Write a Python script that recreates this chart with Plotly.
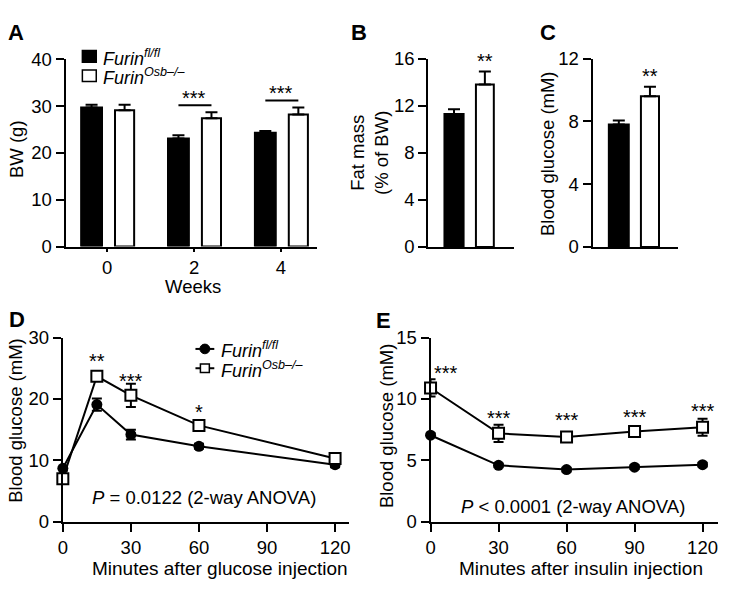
import plotly.graph_objects as go

W, H = 744, 609
FONT = "Liberation Sans, Arial, sans-serif"
FS = 18.5

# ---------------- data ----------------
weeks = ["0", "2", "4"]
bw_fl = [29.7, 23.1, 24.3]
bw_fl_err = [0.6, 0.7, 0.4]
bw_osb = [29.1, 27.4, 28.2]
bw_osb_err = [1.2, 1.3, 1.5]
bw_sig = ["", "***", "***"]

fat_fl = [11.3]
fat_fl_err = [0.4]
fat_osb = [13.8]
fat_osb_err = [1.1]

glc_fl = [7.8]
glc_fl_err = [0.26]
glc_osb = [9.6]
glc_osb_err = [0.6]

gtt_t = [0, 15, 30, 60, 120]
gtt_fl = [8.7, 19.1, 14.2, 12.3, 9.3]
gtt_fl_err = [0.4, 1.0, 0.8, 0.4, 0.4]
gtt_osb = [7.0, 23.7, 20.6, 15.7, 10.3]
gtt_osb_err = [0.5, 0.5, 1.9, 0.5, 0.4]
gtt_sig = ["", "**", "***", "*", ""]
gtt_sig_y = [None, 27.0, 23.7, 18.7, None]

itt_t = [0, 30, 60, 90, 120]
itt_fl = [7.05, 4.6, 4.25, 4.45, 4.65]
itt_fl_err = [0.15, 0.15, 0.15, 0.15, 0.15]
itt_osb = [10.9, 7.2, 6.9, 7.35, 7.7]
itt_osb_err = [0.7, 0.7, 0.4, 0.45, 0.7]
itt_sig = ["***", "***", "***", "***", "***"]
itt_sig_y = [12.5, 8.84, 8.71, 8.94, 9.42]

FL = "<i>Furin<sup>fl/fl</sup></i>"
OSB = "<i>Furin<sup>Osb–/–</sup></i>"


def px(x):
    return x / W


def py(y):
    return 1 - y / H


fig = go.Figure()

err_up = lambda arr: dict(type="data", array=arr, arrayminus=[0] * len(arr), symmetric=False,
                          color="black", thickness=2, width=6)
err_sym = lambda arr: dict(type="data", array=arr, color="black", thickness=2, width=5)

# ---------- Panel A ----------
xa = list(range(len(weeks)))
fig.add_trace(go.Bar(x=xa, y=bw_fl, width=0.24, offset=-0.30, showlegend=False,
                     marker=dict(color="black", line=dict(color="black", width=2)),
                     error_y=err_up(bw_fl_err), xaxis="x", yaxis="y"))
fig.add_trace(go.Bar(x=xa, y=bw_osb, width=0.22, offset=0.09, showlegend=False,
                     marker=dict(color="white", line=dict(color="black", width=2)),
                     error_y=err_up(bw_osb_err), xaxis="x", yaxis="y"))
# ---------- Panel B ----------
fig.add_trace(go.Bar(x=[0], y=fat_fl, width=0.62, showlegend=False,
                     marker=dict(color="black", line=dict(color="black", width=2)),
                     error_y=err_up(fat_fl_err), xaxis="x2", yaxis="y2"))
fig.add_trace(go.Bar(x=[1], y=fat_osb, width=0.58, showlegend=False,
                     marker=dict(color="white", line=dict(color="black", width=2)),
                     error_y=err_up(fat_osb_err), xaxis="x2", yaxis="y2"))
# ---------- Panel C ----------
fig.add_trace(go.Bar(x=[0], y=glc_fl, width=0.64, showlegend=False,
                     marker=dict(color="black", line=dict(color="black", width=2)),
                     error_y=err_up(glc_fl_err), xaxis="x3", yaxis="y3"))
fig.add_trace(go.Bar(x=[1], y=glc_osb, width=0.58, showlegend=False,
                     marker=dict(color="white", line=dict(color="black", width=2)),
                     error_y=err_up(glc_osb_err), xaxis="x3", yaxis="y3"))
# ---------- Panels D, E ----------
for xs, ys, es, sym, col, xr, yr in [
    (gtt_t, gtt_fl, gtt_fl_err, "circle", "black", "x4", "y4"),
    (gtt_t, gtt_osb, gtt_osb_err, "square", "white", "x4", "y4"),
    (itt_t, itt_fl, itt_fl_err, "circle", "black", "x5", "y5"),
    (itt_t, itt_osb, itt_osb_err, "square", "white", "x5", "y5"),
]:
    fig.add_trace(go.Scatter(x=xs, y=ys, mode="lines+markers", showlegend=False,
                             line=dict(color="black", width=2),
                             marker=dict(symbol=sym, size=11, color=col,
                                         line=dict(color="black", width=2 if col == "white" else 0)),
                             error_y=err_sym(es), cliponaxis=False, xaxis=xr, yaxis=yr))

tickfont = dict(family=FONT, size=FS, color="black")
base_axis = dict(showline=True, linecolor="black", linewidth=2, ticks="outside",
                 ticklen=8, tickwidth=2, tickcolor="black", showgrid=False,
                 zeroline=False, tickfont=tickfont, fixedrange=True)

yA = [py(244), py(50)]
yBC = [py(244.3), py(49.3)]
yDE = [py(529), py(338.3)]

fig.update_layout(
    width=W, height=H, margin=dict(l=0, r=0, t=0, b=0),
    paper_bgcolor="white", plot_bgcolor="white",
    font=dict(family=FONT, size=FS, color="black"),
    barmode="overlay", showlegend=False,
    xaxis=dict(base_axis, domain=[px(61), px(315)], range=[-0.48, 2.42],
               tickvals=xa, ticktext=weeks, ticklen=3, anchor="y"),
    yaxis=dict(base_axis, domain=yA, range=[0, 40], tickvals=[0, 10, 20, 30, 40], anchor="x"),
    xaxis2=dict(base_axis, domain=[px(426.7), px(512.7)], range=[-0.835, 1.93],
                ticks="", showticklabels=False, anchor="y2"),
    yaxis2=dict(base_axis, domain=yBC, range=[0, 16], tickvals=[0, 4, 8, 12, 16], anchor="x2"),
    xaxis3=dict(base_axis, domain=[px(592.3), px(678.3)], range=[-0.844, 1.895],
                ticks="", showticklabels=False, anchor="y3"),
    yaxis3=dict(base_axis, domain=yBC, range=[0, 12], tickvals=[0, 4, 8, 12], anchor="x3"),
    xaxis4=dict(base_axis, domain=[px(58.3), px(346.7)], range=[0, 126.1],
                tickvals=[0, 30, 60, 90, 120], anchor="y4"),
    yaxis4=dict(base_axis, domain=yDE, range=[0, 30], tickvals=[0, 10, 20, 30], anchor="x4"),
    xaxis5=dict(base_axis, domain=[px(429), px(718.3)], range=[0, 126.6],
                tickvals=[0, 30, 60, 90, 120], anchor="y5"),
    yaxis5=dict(base_axis, domain=yDE, range=[0, 15], tickvals=[0, 5, 10, 15], anchor="x5"),
)

ann = []
shapes = []


def label(text, x, y, **kw):
    d = dict(text=text, x=px(x), y=py(y), xref="paper", yref="paper",
             showarrow=False, xanchor="center", yanchor="middle",
             font=dict(family=FONT, size=FS, color="black"))
    d.update(kw)
    ann.append(d)


# panel letters
for t, x, y in [("A", 11, 22), ("B", 357, 22), ("C", 547, 22), ("D", 12, 320), ("E", 382, 321)]:
    label(f"<b>{t}</b>", x, y, font=dict(family=FONT, size=22, color="black"))

# axis titles
label("BW (g)", 11, 143, textangle=-90)
label("Weeks", 190, 285)
label("Fat mass<br>(% of BW)", 368, 147, textangle=-90)
label("Blood glucose (mM)", 547.5, 148, textangle=-90)
label("Blood glucose (mM)", 10.5, 424, textangle=-90)
label("Minutes after glucose injection", 217, 577, font=dict(family=FONT, size=19, color="black"))
label("Blood glucose (mM)", 384, 429, textangle=-90)
label("Minutes after insulin injection", 581, 577, font=dict(family=FONT, size=19, color="black"))

# P values
label("<i>P</i> = 0.0122 (2-way ANOVA)", 201, 504)
label("<i>P</i> &lt; 0.0001 (2-way ANOVA)", 572.5, 513)

LEGF = dict(family=FONT, size=18, color="black")

# legend A (keys + text)
for name, col, yc in [(FL, "black", 47), (OSB, "white", 67)]:
    shapes.append(dict(type="rect", xref="paper", yref="paper",
                       x0=px(78), x1=px(92), y0=py(yc - 6), y1=py(yc + 6),
                       fillcolor=col, line=dict(color="black", width=1.5)))
    label(name, 97, yc + 1, xanchor="left", font=LEGF)

# legend D (keys + text)
for name, sym, yc in [(FL, "circle", 350), (OSB, "square", 370)]:
    shapes.append(dict(type="line", xref="paper", yref="paper",
                       x0=px(192), x1=px(211), y0=py(yc), y1=py(yc),
                       line=dict(color="black", width=2)))
    if sym == "circle":
        shapes.append(dict(type="circle", xref="paper", yref="paper",
                           x0=px(196.5), x1=px(206.5), y0=py(yc - 5), y1=py(yc + 5),
                           fillcolor="black", line=dict(color="black", width=1)))
    else:
        shapes.append(dict(type="rect", xref="paper", yref="paper",
                           x0=px(197), x1=px(206), y0=py(yc - 4.5), y1=py(yc + 4.5),
                           fillcolor="white", line=dict(color="black", width=1.5)))
    label(name, 216, yc + 1, xanchor="left", font=LEGF)

# significance A: bracket from black to white bar centre
for i, s in enumerate(bw_sig):
    if not s:
        continue
    top = max(bw_fl[i] + bw_fl_err[i], bw_osb[i] + bw_osb_err[i])
    ly = top + 1.5
    shapes.append(dict(type="line", xref="x", yref="y", x0=i - 0.18, x1=i + 0.20,
                       y0=ly, y1=ly, line=dict(color="black", width=2)))
    ann.append(dict(text=s, x=i, y=ly, xref="x", yref="y", showarrow=False,
                    yanchor="bottom", yshift=-6, font=dict(family=FONT, size=20, color="black")))

# significance B, C
ann.append(dict(text="**", x=1, y=fat_osb[0] + fat_osb_err[0], xref="x2", yref="y2",
                showarrow=False, yanchor="bottom", yshift=-2,
                font=dict(family=FONT, size=20, color="black")))
ann.append(dict(text="**", x=1, y=glc_osb[0] + glc_osb_err[0], xref="x3", yref="y3",
                showarrow=False, yanchor="bottom", yshift=-2,
                font=dict(family=FONT, size=20, color="black")))
# significance D, E
for t, s, yy in zip(gtt_t, gtt_sig, gtt_sig_y):
    if s:
        ann.append(dict(text=s, x=t, y=yy, xref="x4", yref="y4", showarrow=False,
                        yanchor="middle", yshift=-5, font=dict(family=FONT, size=20, color="black")))
for i, (t, s, yy) in enumerate(zip(itt_t, itt_sig, itt_sig_y)):
    if s:
        ann.append(dict(text=s, x=t + (7 if i == 0 else 0), y=yy, xref="x5", yref="y5",
                        showarrow=False, yanchor="middle", yshift=-5,
                        font=dict(family=FONT, size=20, color="black")))

fig.update_layout(annotations=ann, shapes=shapes)
fig.write_html("out.html", config={"displayModeBar": False},
               post_script="document.body.style.margin='0';document.body.style.overflow='hidden';")
